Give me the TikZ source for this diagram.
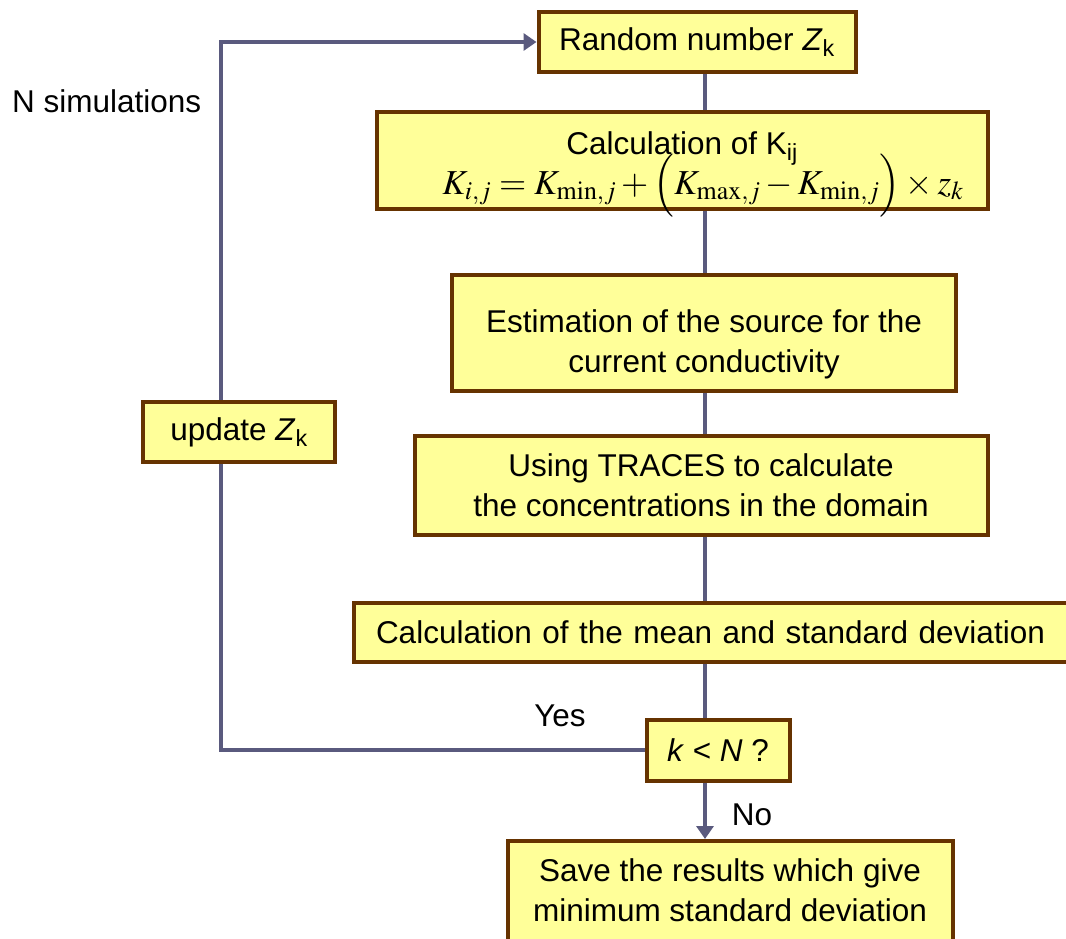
\documentclass[tikz,border=0pt]{standalone}
\usepackage{mathptmx}
\usepackage{fontspec}
\setmainfont{Liberation Sans}
\usetikzlibrary{arrows.meta, positioning}
\definecolor{boxfill}{HTML}{FFFF99}
\definecolor{boxline}{HTML}{663300}
\definecolor{flowline}{HTML}{5A5A7E}
\newcommand{\Zk}{\textit{Z}\textsubscript{k}}
\begin{document}
\begin{tikzpicture}[x=1pt, y=-1pt,
    block/.style={draw=boxline, fill=boxfill, line width=4pt, inner sep=0pt, align=center,
      font=\fontsize{31.5}{40}\selectfont},
    flow/.style={draw=flowline, line width=4pt},
    note/.style={font=\fontsize{31.5}{36}\selectfont, inner sep=0pt}
]
    \clip (0,0) rectangle (1066,938);
    \useasboundingbox (0,0) rectangle (1066,938);

    \coordinate (spine) at (705,0);
    \coordinate (loop) at (221,0);

    \node[block, minimum width=317pt, minimum height=60pt] (rand) at (697,42) {Random number \Zk};
    \node[block, minimum width=611pt, minimum height=97pt] (calc) at (682,160)
        {\rule{0pt}{28pt}Calculation of K\textsubscript{ij}\\[0pt]
         \hspace*{42pt}\fontsize{35}{38}\selectfont\smash{$K_{i,j}=K_{\min,j}+\Bigl(K_{\max,j}-K_{\min,j}\Bigr)\times z_k$}};
    \node[block, minimum width=504pt, minimum height=116pt] (est) at (704,333)
        {\rule{0pt}{46pt}Estimation of the source for the\\current conductivity};
    \node[block, minimum width=573pt, minimum height=99pt] (traces) at (701,485)
        {Using TRACES to calculate\\the concentrations in the domain};
    \node[block, anchor=west, text width=690pt, align=left, inner xsep=22pt, minimum height=59pt] (mean) at (352,632)
        {Calculation of the mean and standard deviation};
    \node[block, minimum width=143pt, minimum height=61pt] (test) at (718,750) {\textit{k} < \textit{N} ?};
    \node[block, anchor=north, minimum width=445pt, minimum height=140pt] (save) at (730,839)
        {Save the results which give\\minimum standard deviation\rule[-41pt]{0pt}{41pt}};
    \node[block, minimum width=192pt, minimum height=60pt] (update) at (239,432) {update \Zk};

    \node[note, anchor=west] (nsim) at (12,101) {N simulations};
    \node[note] (yes) at (560,716) {Yes};
    \node[note] (no) at (752,815) {No};

    \draw[flow] (rand.south -| spine) -- (calc.north -| spine);
    \draw[flow] (calc.south -| spine) -- (est.north -| spine);
    \draw[flow] (est.south -| spine) -- (traces.north -| spine);
    \draw[flow] (traces.south -| spine) -- (mean.north -| spine);
    \draw[flow] (mean.south -| spine) -- (test.north -| spine);
    \draw[flow, -{Triangle[length=13pt, width=17pt]}] (test.south -| spine) -- (save.north -| spine);
    \draw[flow] (test.west) -| (loop |- update.south);
    \draw[flow, -{Triangle[length=13pt, width=17pt]}] (loop |- update.north) |- (rand.west);
\end{tikzpicture}
\end{document}
